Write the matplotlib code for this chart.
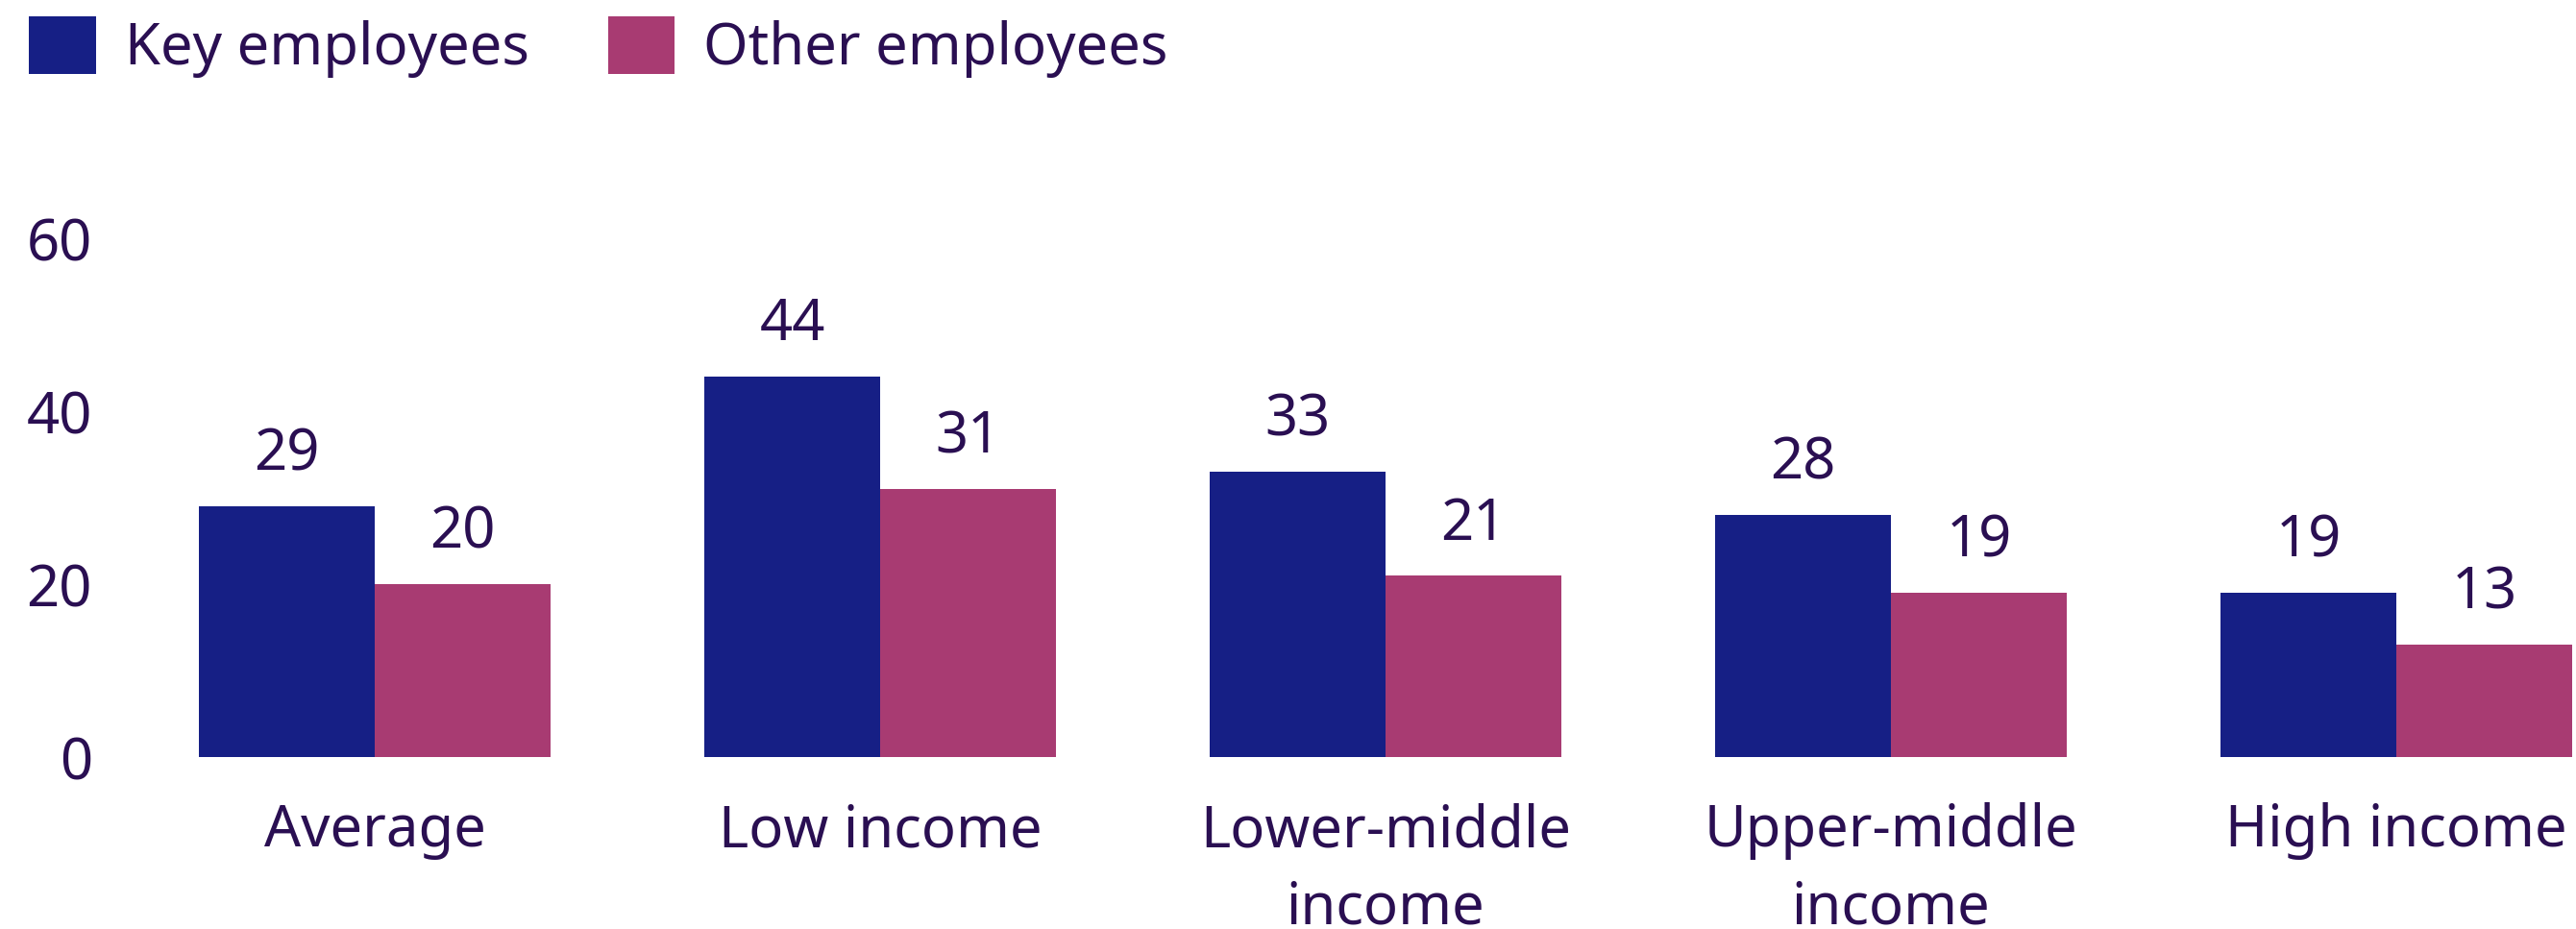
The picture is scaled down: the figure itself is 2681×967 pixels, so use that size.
import matplotlib
matplotlib.use("Agg")
import matplotlib.pyplot as plt
import numpy as np
from matplotlib.patches import Patch

categories = ["Average", "Low income", "Lower-middle\nincome", "Upper-middle\nincome", "High income"]
key_employees = [29, 44, 33, 28, 19]
other_employees = [20, 31, 21, 19, 13]
series_names = ["Key employees", "Other employees"]
yticks = [0, 20, 40, 60]

BLUE = "#161f85"
PINK = "#a83b72"
TEXT = "#2a0f52"

plt.rcParams['font.family'] = ['Noto Sans', 'DejaVu Sans']
FS = 43

W, H = 2681, 967
fig = plt.figure(figsize=(W / 100, H / 100), dpi=100)
ax = fig.add_axes([207 / W, (H - 788) / H, 2470 / W, 540 / H])

x = np.arange(len(categories))
bw = 0.348
b1 = ax.bar(x - bw / 2, key_employees, bw, color=BLUE, label=series_names[0])
b2 = ax.bar(x + bw / 2, other_employees, bw, color=PINK, label=series_names[1])

for bars, vals in ((b1, key_employees), (b2, other_employees)):
    for r, v in zip(bars, vals):
        ax.annotate(f"{v}", (r.get_x() + r.get_width() / 2, v), xytext=(0, 27),
                    textcoords="offset points", ha="center", va="baseline",
                    fontsize=FS, color=TEXT)

ax.set_xlim(-bw, len(categories) - 1 + bw)
ax.set_ylim(0, 60)
ax.set_yticks(yticks)
ax.set_yticklabels([str(t) for t in yticks])
ax.set_xticks(x)
ax.set_xticklabels(categories, linespacing=1.45)
ax.tick_params(axis="y", length=0, pad=80, labelsize=FS, labelcolor=TEXT)
ax.tick_params(axis="x", length=0, pad=34, labelsize=FS, labelcolor=TEXT)
for s in ax.spines.values():
    s.set_visible(False)

handles = [Patch(facecolor=BLUE), Patch(facecolor=PINK)]
fig.legend(handles, series_names, loc="upper left", bbox_to_anchor=(30 / W, 1 - 17 / H),
           frameon=False, ncol=2, fontsize=FS, labelcolor=TEXT, borderpad=0,
           borderaxespad=0, handlelength=1.17, handleheight=1.17,
           handletextpad=0.5, columnspacing=1.37)

fig.savefig("out.png", dpi=100)
